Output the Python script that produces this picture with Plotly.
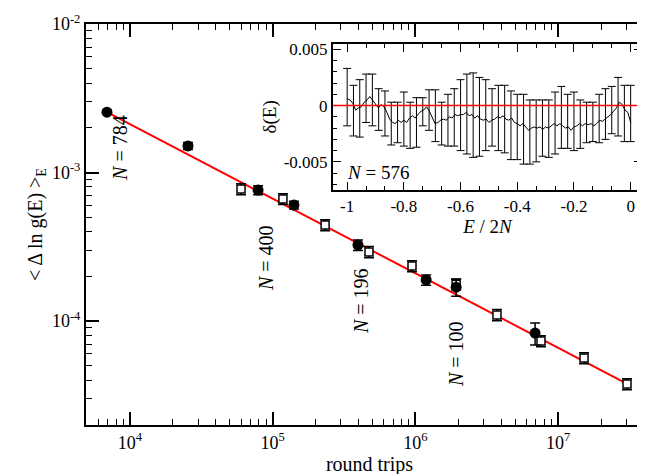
import plotly.graph_objects as go

# ---------------- main panel data ----------------
circ_x = [6.9e3, 2.55e4, 7.9e4, 1.41e5, 3.96e5, 1.19e6, 1.93e6, 6.9e6]
circ_y = [2.55e-3, 1.51e-3, 7.62e-4, 6.04e-4, 3.25e-4, 1.89e-4, 1.69e-4, 8.3e-5]
circ_err = [7.7e-5, 8.3e-5, 5.3e-5, 3.6e-5, 2.6e-5, 1.5e-5, 2.2e-5, 1.4e-5]

sq_x = [6.0e4, 1.18e5, 2.33e5, 4.73e5, 9.47e5, 1.93e6, 3.73e6, 7.59e6, 1.52e7, 3.04e7]
sq_y = [7.74e-4, 6.64e-4, 4.43e-4, 2.92e-4, 2.35e-4, 1.77e-4, 1.10e-4, 7.33e-5, 5.63e-5, 3.77e-5]
sq_err = [6.6e-5, 5.6e-5, 3.8e-5, 2.5e-5, 2.0e-5, 1.5e-5, 9.4e-6, 6.2e-6, 4.8e-6, 3.2e-6]

fit_x = [6.9e3, 3.0e7]
fit_y = [2.55e-3, 3.8e-5]

main_tickvals = [1e4, 1e5, 1e6, 1e7]
main_ticktext = ["10<sup>4</sup>", "10<sup>5</sup>", "10<sup>6</sup>", "10<sup>7</sup>"]
y_tickvals = [1e-4, 1e-3, 1e-2]
y_ticktext = ["10<sup>-4</sup>", "10<sup>-3</sup>", "10<sup>-2</sup>"]

# ---------------- inset data ----------------
inset_x = [i / 100 for i in range(-100, 1)]
inset_y_milli = [0.6, 0.5, 0.2, -0.4, -0.2, -0.1, 0.3, 0.5, 0.8, 0.5,
                 0.2, -0.2, 0.1, -0.1, -0.6, -1.2, -1.5, -1.6, -1.3, -1.5,
                 -1.3, -1.5, -1.1, -0.9, -1.1, -0.8, -0.5, -0.4, -0.1, -0.5,
                 -1.1, -1.6, -1.5, -1.3, -1.2, -1.3, -1.0, -1.1, -0.8, -0.9,
                 -0.8, -0.8, -0.6, -0.9, -0.8, -1.1, -0.9, -1.2, -1.3, -1.2,
                 -1.5, -1.3, -1.2, -1.0, -1.1, -0.9, -1.2, -1.3, -1.1, -1.5,
                 -1.6, -1.8, -1.6, -1.9, -2.2, -2.0, -1.9, -2.0, -1.9, -2.1,
                 -1.9, -2.0, -1.8, -1.6, -1.8, -1.6, -1.8, -2.0, -1.9, -2.2,
                 -1.9, -1.8, -1.6, -1.8, -1.6, -1.7, -1.6, -1.8, -1.6, -1.3,
                 -1.4, -1.2, -1.0, -0.8, -0.5, -0.2, 0.3, 0.1, -0.4, -0.6,
                 -1.5]
inset_y = [v * 1e-3 for v in inset_y_milli]

err_x = [-1 + i / 45 for i in range(46)]
err_top_milli = [3.3, 1.8, 2.3, 2.8, 2.8, 1.5, 1.3, 0.3, 0.3, 1.2, 0.3, 0.7, 0.7, 1.4, 1.4,
                 0.3, 1.0, 1.5, 2.3, 2.8, 2.9, 2.5, 2.3, 1.5, 1.8, 1.8, 1.3, 1.0, 1.0, 0.5,
                 0.5, 0.5, 0.5, 1.2, 1.7, 1.0, 1.2, 0.5, 0.3, 0.3, 1.0, 1.5, 1.7, 2.5, 1.8, 1.8]
err_bot_milli = [-1.8, -2.7, -2.8, -1.5, -1.8, -2.2, -2.7, -3.5, -3.3, -3.6, -3.8, -3.7, -1.8,
                 -2.2, -3.2, -3.5, -3.6, -3.6, -4.0, -4.3, -4.6, -4.5, -4.0, -3.6, -4.0, -4.2,
                 -4.8, -4.8, -5.2, -5.2, -5.0, -4.5, -4.6, -4.3, -3.8, -3.8, -4.0, -3.8, -3.3,
                 -3.2, -3.3, -3.0, -2.5, -2.7, -3.2, -3.2]
err_mid = [(t + b) / 2 * 1e-3 for t, b in zip(err_top_milli, err_bot_milli)]
err_half = [(t - b) / 2 * 1e-3 for t, b in zip(err_top_milli, err_bot_milli)]

inset_xticks = [-1, -0.8, -0.6, -0.4, -0.2, 0]
inset_xtext = ["-1", "-0.8", "-0.6", "-0.4", "-0.2", "0"]
inset_yticks = [-0.005, 0, 0.005]
inset_ytext = ["-0.005", "0", "0.005"]

FONT = "Liberation Serif"

fig = go.Figure()

fig.add_trace(go.Scatter(x=fit_x, y=fit_y, mode="lines",
                         line=dict(color="#ff0000", width=2), showlegend=False,
                         xaxis="x", yaxis="y"))
fig.add_trace(go.Scatter(x=sq_x, y=sq_y, mode="markers",
                         marker=dict(symbol="square", size=8, color="white",
                                     line=dict(color="black", width=1.5)),
                         error_y=dict(type="data", array=sq_err, color="black",
                                      thickness=1.5, width=5),
                         showlegend=False, xaxis="x", yaxis="y"))
fig.add_trace(go.Scatter(x=circ_x, y=circ_y, mode="markers",
                         marker=dict(symbol="circle", size=11, color="black"),
                         error_y=dict(type="data", array=circ_err, color="black",
                                      thickness=1.5, width=5),
                         showlegend=False, xaxis="x", yaxis="y"))

# inset
fig.add_trace(go.Scatter(x=err_x, y=err_mid, mode="markers",
                         marker=dict(size=1, color="black", opacity=0),
                         error_y=dict(type="data", array=err_half, color="black",
                                      thickness=1, width=4),
                         showlegend=False, xaxis="x2", yaxis="y2"))
fig.add_trace(go.Scatter(x=inset_x, y=inset_y, mode="lines",
                         line=dict(color="black", width=1),
                         showlegend=False, xaxis="x2", yaxis="y2"))

minor_main_x = [m * 10 ** e for e in range(3, 8) for m in range(2, 10)]
minor_main_y = [m * 10 ** e for e in range(-5, -2) for m in range(2, 10)]

axis_common = dict(showline=True, linecolor="black", linewidth=2, mirror="ticks",
                   ticks="inside", tickcolor="black", showgrid=False, automargin=False,
                   zeroline=False)

fig.update_layout(
    width=645, height=474,
    margin=dict(l=78, r=0, t=16, b=57),
    paper_bgcolor="white", plot_bgcolor="white",
    font=dict(family=FONT, color="black"),
    xaxis=dict(type="log", range=[3.692, 7.665], domain=[0, 1],
               tickvals=main_tickvals, ticktext=main_ticktext,
               ticklen=13, tickwidth=1.5,
               tickfont=dict(family=FONT, size=18),
               minor=dict(tickvals=minor_main_x, ticks="inside", ticklen=6,
                          tickwidth=1.2, tickcolor="black"),
               title=dict(text="round trips", font=dict(family=FONT, size=20), standoff=0),
               **axis_common),
    yaxis=dict(type="log", range=[-4.70, -2.0], domain=[0, 1],
               tickvals=y_tickvals, ticktext=y_ticktext,
               ticklen=13, tickwidth=1.5,
               tickfont=dict(family=FONT, size=18),
               minor=dict(tickvals=minor_main_y, ticks="inside", ticklen=6,
                          tickwidth=1.2, tickcolor="black"),
               title=dict(text="&lt; Δ ln g(E) &gt;<sub>E</sub>",
                          font=dict(family=FONT, size=20), standoff=4),
               **axis_common),
    xaxis2=dict(anchor="y2", domain=[0.4356, 0.9806], range=[-1.05, 0.04],
                tickvals=inset_xticks, ticktext=inset_xtext,
                ticklen=8, tickwidth=1.2,
                tickfont=dict(family=FONT, size=17),
                minor=dict(dtick=0.2 / 3, tick0=-1, ticks="inside", ticklen=4,
                           tickwidth=1, tickcolor="black"),
                title=dict(text="<i>E</i> / 2<i>N</i>", font=dict(family=FONT, size=19),
                           standoff=0),
                **axis_common),
    yaxis2=dict(anchor="x2", domain=[0.586, 0.951], range=[-0.0075, 0.0055],
                tickvals=inset_yticks, ticktext=inset_ytext,
                ticklen=8, tickwidth=1.2,
                tickfont=dict(family=FONT, size=17),
                minor=dict(dtick=0.001, tick0=0, ticks="inside", ticklen=4,
                           tickwidth=1, tickcolor="black"),
                title=dict(text="δ(E)", font=dict(family=FONT, size=19), standoff=2),
                **axis_common),
)

# red zero reference line of the inset
fig.add_shape(type="line", xref="x2 domain", yref="y2", x0=0, x1=1, y0=0, y1=0,
              line=dict(color="#ff0000", width=1.4), layer="above")

ann_font = dict(family=FONT, size=20, color="black")
labels = [("<i>N</i> = 784", 0.060, 0.691),
          ("<i>N</i> = 400", 0.3175, 0.4165),
          ("<i>N</i> = 196", 0.485, 0.309),
          ("<i>N</i> = 100", 0.6526, 0.177)]
for txt, px, py in labels:
    fig.add_annotation(text=txt, x=px, y=py, xref="paper", yref="paper",
                       showarrow=False, textangle=-90, font=ann_font,
                       xanchor="center", yanchor="middle")
fig.add_annotation(text="<i>N</i> = 576", x=0.515, y=0.63, xref="paper", yref="paper",
                   showarrow=False, font=dict(family=FONT, size=19, color="black"),
                   xanchor="center", yanchor="middle")

fig.write_html("out.html")
